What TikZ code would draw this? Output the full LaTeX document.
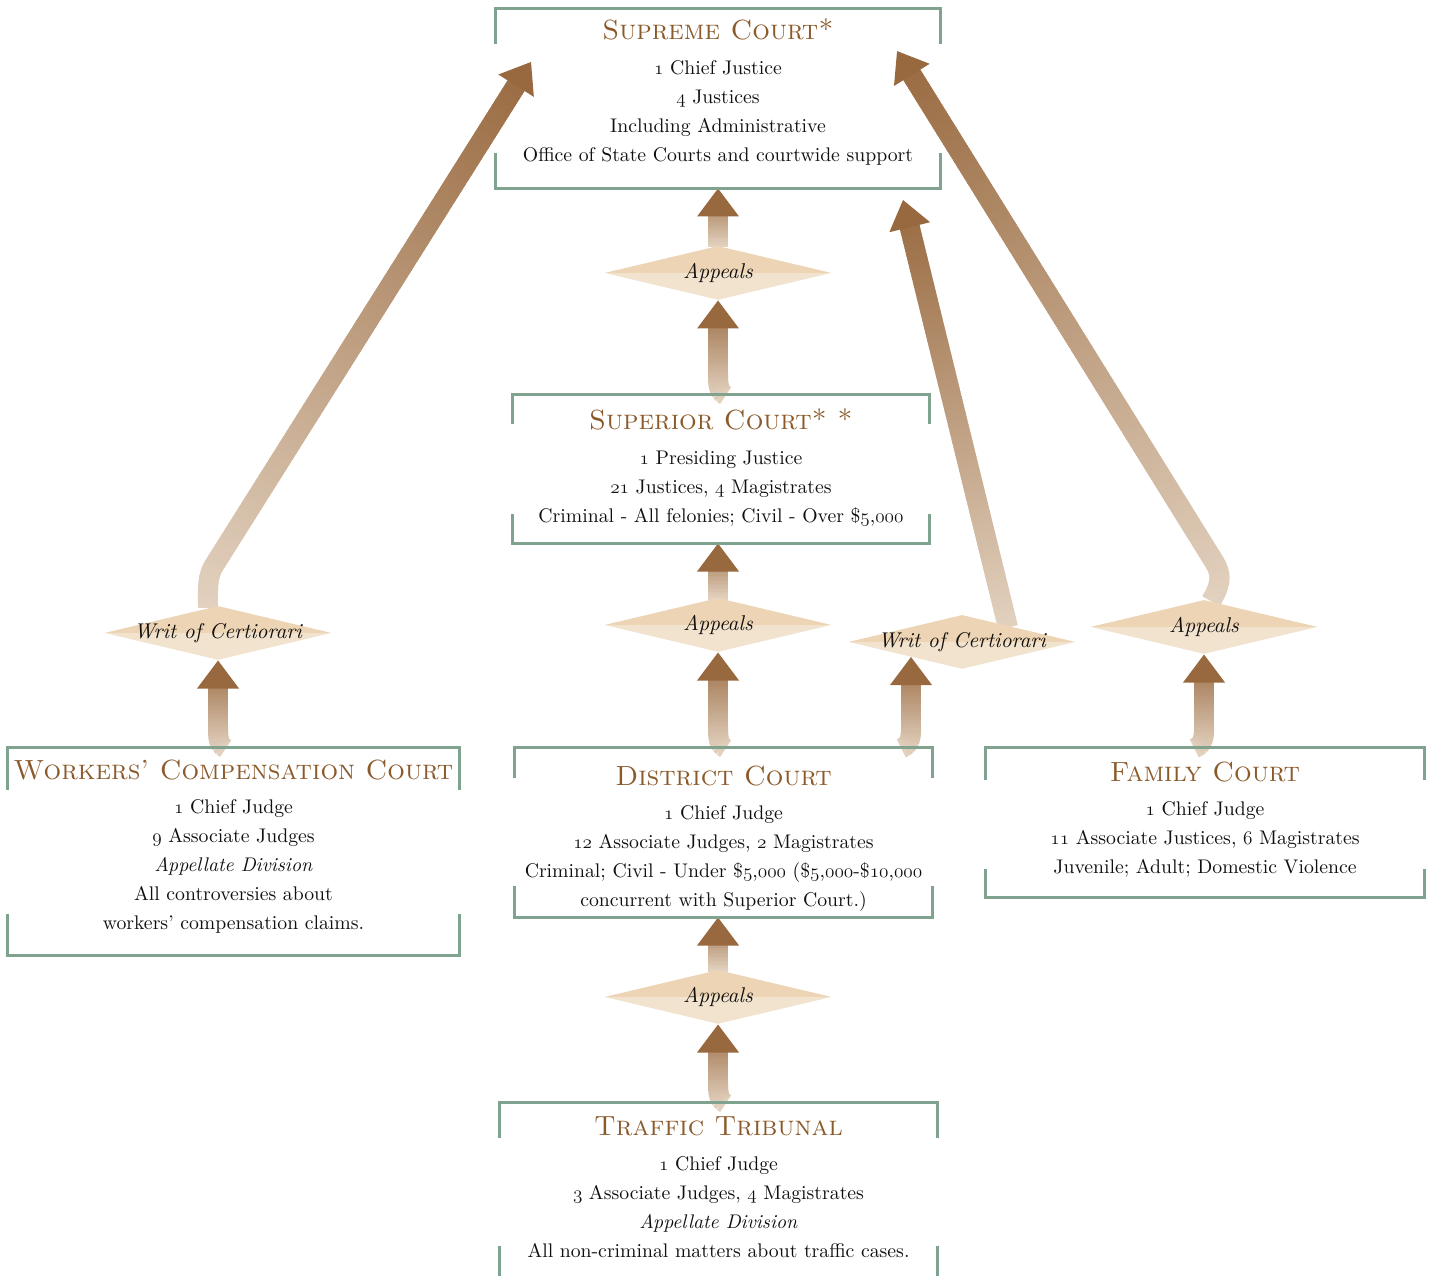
\documentclass[tikz,border=0pt]{standalone}
\usepackage{fontspec}
\setmainfont{lmroman10-regular.otf}[BoldFont=lmroman10-bold.otf, ItalicFont=lmroman10-italic.otf, SmallCapsFont=lmromancaps10-regular.otf]
\usepackage{tikz}
\usepackage{xcolor}
\usetikzlibrary{arrows.meta,calc,backgrounds,decorations.markings,shapes.geometric}
\tikzset{every picture/.style={line width=0.75pt}}

\definecolor{framegreen}{RGB}{128,163,143}
\definecolor{titlebrown}{RGB}{139,90,43}
\definecolor{inkblack}{RGB}{18,16,14}
\definecolor{arrowdark}{RGB}{152,105,63}
\definecolor{arrowlight}{RGB}{226,209,191}
\definecolor{diamtop}{RGB}{236,212,180}
\definecolor{diambot}{RGB}{242,227,207}

\newcommand{\os}[1]{{\usefont{OML}{lmm}{m}{it}#1}}
\newcommand{\courttitle}[1]{{\fontsize{20.8}{25}\selectfont\scshape\color{titlebrown}#1}}
\newcommand{\routelabel}[1]{\makebox[0pt]{#1}}
\newcommand{\courtframe}[3]{%
  \draw[bracketline] (#1.north west) ++(0,#2) -- (#1.north west) -- (#1.north east) -- ++(0,#2);
  \draw[bracketline] (#1.south west) ++(0,-#3) -- (#1.south west) -- (#1.south east) -- ++(0,-#3);}
\newcommand{\shaftmark}{%
  \pgfmathsetmacro{\gradpos}{\pgfkeysvalueof{/pgf/decoration/mark info/distance from start}}%
  \pgfmathtruncatemacro{\gradon}{\gradpos < \pgfdecoratedpathlength - 20}%
  \pgfmathsetmacro{\gradmix}{\gradpos/\pgfdecoratedpathlength*100}%
  \ifnum\gradon=1 \fill[arrowdark!\gradmix!arrowlight] (-1.5pt,-7.5pt) rectangle (1.5pt,7.5pt);\fi}

\tikzset{
  bracketline/.style={draw=framegreen, line width=2.25pt},
  courtbox/.style={rectangle, inner sep=0pt},
  courttext/.style={anchor=north, align=center, inner sep=0pt, text=inkblack, font=\fontsize{14.8}{21.75}\selectfont},
  route/.style={diamond, fill=diambot, inner sep=0pt, minimum width=170pt, minimum height=40.5pt,
    path picture={\fill[diamtop] (path picture bounding box.north west) rectangle (path picture bounding box.east);},
    text=inkblack, font=\fontsize{16}{19}\selectfont\itshape},
  fatarrow/.style={
    postaction={decorate, decoration={markings, mark=between positions 0 and 1 step 2pt with {\shaftmark}}},
    postaction={decorate, decoration={markings, mark=at position 1 with {\fill[arrowdark] (0,0) -- (-21pt,15.75pt) -- (-21pt,-15.75pt) -- cycle;}}}},
}

\begin{document}
\begin{tikzpicture}[x=0.75pt,y=0.75pt,yscale=-1,xscale=1]
\useasboundingbox (0,0) rectangle (1431,1276);

% Court boxes
\node[courtbox, minimum width=333pt, minimum height=134.25pt] (sup) at (718,98.5) {};
\node[courtbox, minimum width=312pt, minimum height=111pt] (supr) at (721,469) {};
\node[courtbox, minimum width=312.75pt, minimum height=126.75pt] (dist) at (723.5,832.5) {};
\node[courtbox, minimum width=338.25pt, minimum height=155.25pt] (work) at (233.5,851.5) {};
\node[courtbox, minimum width=328.5pt, minimum height=111.75pt] (fam) at (1205,822.5) {};
\node[courtbox, minimum width=327.75pt, minimum height=140.25pt] (traf) at (718.5,1196.5) {};

\courtframe{sup}{36}{35}
\courtframe{supr}{30}{30}
\courtframe{dist}{30}{32}
\courtframe{work}{42}{42}
\courtframe{fam}{32}{29}
\courtframe{traf}{35}{45}

% Box texts
\node[courttext] (suptext) at ($(sup.north)+(0,10)$) {\courttitle{Supreme Court*}\\[4pt]
  \os{1} Chief Justice\\ \os{4} Justices\\ Including Administrative\\ Office of State Courts and courtwide support};
\node[courttext] (suprtext) at ($(supr.north)+(0,14)$) {\courttitle{Superior Court* *}\\[4pt]
  \os{1} Presiding Justice\\ \os{21} Justices, \os{4} Magistrates\\ Criminal - All felonies; Civil - Over \$\os{5},\os{000}};
\node[courttext] (disttext) at ($(dist.north)+(0,18)$) {\courttitle{District Court}\\[4pt]
  \os{1} Chief Judge\\ \os{12} Associate Judges, \os{2} Magistrates\\
  Criminal; Civil - Under \$\os{5},\os{000} (\$\os{5},\os{000}-\$\os{10},\os{000}\\ concurrent with Superior Court.)};
\node[courttext] (worktext) at ($(work.north)+(0,12)$) {\courttitle{Workers' Compensation Court}\\[4pt]
  \os{1} Chief Judge\\ \os{9} Associate Judges\\ \textit{Appellate Division}\\ All controversies about\\ workers' compensation claims.};
\node[courttext] (famtext) at ($(fam.north)+(0,14)$) {\courttitle{Family Court}\\[4pt]
  \os{1} Chief Judge\\ \os{11} Associate Justices, \os{6} Magistrates\\ Juvenile; Adult; Domestic Violence};
\node[courttext] (traftext) at ($(traf.north)+(0,14)$) {\courttitle{Traffic Tribunal}\\[4pt]
  \os{1} Chief Judge\\ \os{3} Associate Judges, \os{4} Magistrates\\ \textit{Appellate Division}\\ All non-criminal matters about traffic cases.};

% Routes
\node[route] (app1) at (718,273) {\routelabel{Appeals}};
\node[route] (app2) at (718,625) {\routelabel{Appeals}};
\node[route] (app3) at (718,997) {\routelabel{Appeals}};
\node[route] (writL) at (218,633) {\routelabel{Writ of Certiorari}};
\node[route] (writR) at (962,642) {\routelabel{Writ of Certiorari}};
\node[route] (appR) at (1204,627) {\routelabel{Appeals}};

\coordinate (supL) at (531,62);
\coordinate (supR) at (897,51);
\coordinate (supRlow) at (903,200);
\coordinate (writRin) at (911,657);

% Arrows
\begin{scope}[on background layer]
\path[fatarrow] (app1.north) -- (app1.north |- sup.south);
\path[fatarrow] ($(app1.south |- supr.north)+(6,0)$) .. controls +(-6,-4) and +(0,8) .. ++(-6,-20) -- (app1.south);
\path[fatarrow] (app2.north) -- (app2.north |- supr.south);
\path[fatarrow] ($(app2.south |- dist.north)+(6,0)$) .. controls +(-6,-4) and +(0,8) .. ++(-6,-20) -- (app2.south);
\path[fatarrow] ($(writRin |- dist.north)+(-8,0)$) .. controls +(8,-4) and +(0,8) .. ++(8,-20) -- (writRin);
\path[fatarrow] ($(writL.south |- work.north)+(6,0)$) .. controls +(-6,-4) and +(0,8) .. ++(-6,-20) -- (writL.south);
\path[fatarrow] ($(appR.south |- fam.north)+(-8,0)$) .. controls +(8,-4) and +(0,8) .. ++(8,-20) -- (appR.south);
\path[fatarrow] (app3.north) -- (app3.north |- dist.south);
\path[fatarrow] ($(app3.south |- traf.north)+(6,0)$) .. controls +(-6,-4) and +(0,8) .. ++(-6,-20) -- (app3.south);
\path[fatarrow] ($(writL.north)+(-10,0)$) .. controls +(0,-16) and +(-7,11) .. ++(6,-40) -- (supL);
\path[fatarrow] ($(writR.north)!0.4!(writR.east)$) -- (supRlow);
\path[fatarrow] ($(appR.north)+(8,0)$) .. controls +(8,-14) and +(9,14) .. ++(2,-38) -- (supR);
\end{scope}

\end{tikzpicture}
\end{document}
